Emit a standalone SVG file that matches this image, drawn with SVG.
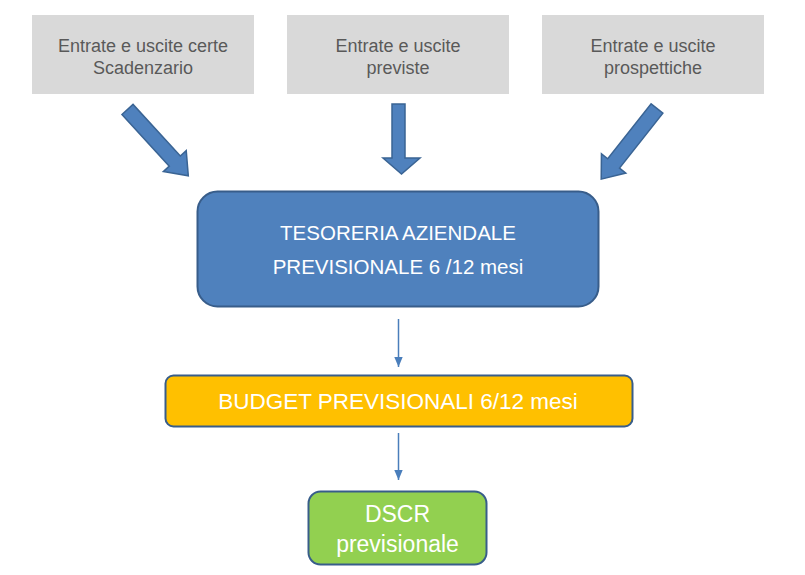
<svg xmlns="http://www.w3.org/2000/svg" width="805" height="575" viewBox="0 0 805 575">
  <style>
    .src rect { fill: #d9d9d9; }
    .src text { font-family: "Liberation Sans", Arial, sans-serif; font-size: 18px; fill: #595959; text-anchor: middle; }
    .blk { fill: #4f81bd; stroke: #3a6494; stroke-width: 1.5; stroke-linejoin: miter; }
    .node rect { stroke: #385d8a; stroke-width: 2; }
    .node text { font-family: "Liberation Sans", Arial, sans-serif; fill: #ffffff; text-anchor: middle; }
    .conn { stroke: #4a7ebb; stroke-width: 1.5; fill: none; }
  </style>
  <defs>
    <marker id="ah" markerUnits="userSpaceOnUse" markerWidth="10" markerHeight="10" viewBox="0 0 10 10" refX="10" refY="5" orient="auto">
      <path d="M0,0.8 L10,5 L0,9.2 Z" fill="#4a7ebb"/>
    </marker>
    <polygon id="diagArrow" points="-7.5,0 7.5,0 7.5,70 15.5,70 0,90 -15.5,70 -7.5,70"/>
  </defs>

  <g id="src1" class="src">
    <rect x="32" y="15" width="222" height="79"/>
    <text x="143" y="51.5">Entrate e uscite certe</text>
    <text x="143" y="73.5">Scadenzario</text>
  </g>
  <g id="src2" class="src">
    <rect x="287" y="15" width="222" height="79"/>
    <text x="398" y="51.5">Entrate e uscite</text>
    <text x="398" y="73.5">previste</text>
  </g>
  <g id="src3" class="src">
    <rect x="542" y="15" width="222" height="79"/>
    <text x="653" y="51.5">Entrate e uscite</text>
    <text x="653" y="73.5">prospettiche</text>
  </g>

  <g id="block-arrows">
    <use href="#diagArrow" class="blk" transform="translate(127.5,109.5) rotate(-42.5)"/>
    <polygon class="blk" points="392,104 405,104 405,158 420,158 401.5,174 383,158 392,158"/>
    <use href="#diagArrow" class="blk" transform="translate(657,108.5) rotate(38.3)"/>
  </g>

  <g id="tesoreria" class="node">
    <rect x="197.5" y="191.5" width="401" height="115" rx="20" ry="20" fill="#4f81bd"/>
    <text x="398" y="240" font-size="20.5">TESORERIA AZIENDALE</text>
    <text x="398" y="273.5" font-size="20.5">PREVISIONALE 6 /12 mesi</text>
  </g>

  <g id="budget" class="node">
    <rect x="165.5" y="375.5" width="467" height="51" rx="8" ry="8" fill="#ffc000"/>
    <text x="398" y="409" font-size="22.5">BUDGET PREVISIONALI 6/12 mesi</text>
  </g>

  <g id="dscr" class="node">
    <rect x="308.5" y="491.5" width="178" height="73" rx="12" ry="12" fill="#92d050"/>
    <text x="397.5" y="521.5" font-size="23">DSCR</text>
    <text x="397.5" y="552" font-size="23">previsionale</text>
  </g>

  <g id="connectors">
    <path class="conn" d="M398.5,319 L398.5,367" marker-end="url(#ah)"/>
    <path class="conn" d="M398.5,433 L398.5,480" marker-end="url(#ah)"/>
  </g>
</svg>
